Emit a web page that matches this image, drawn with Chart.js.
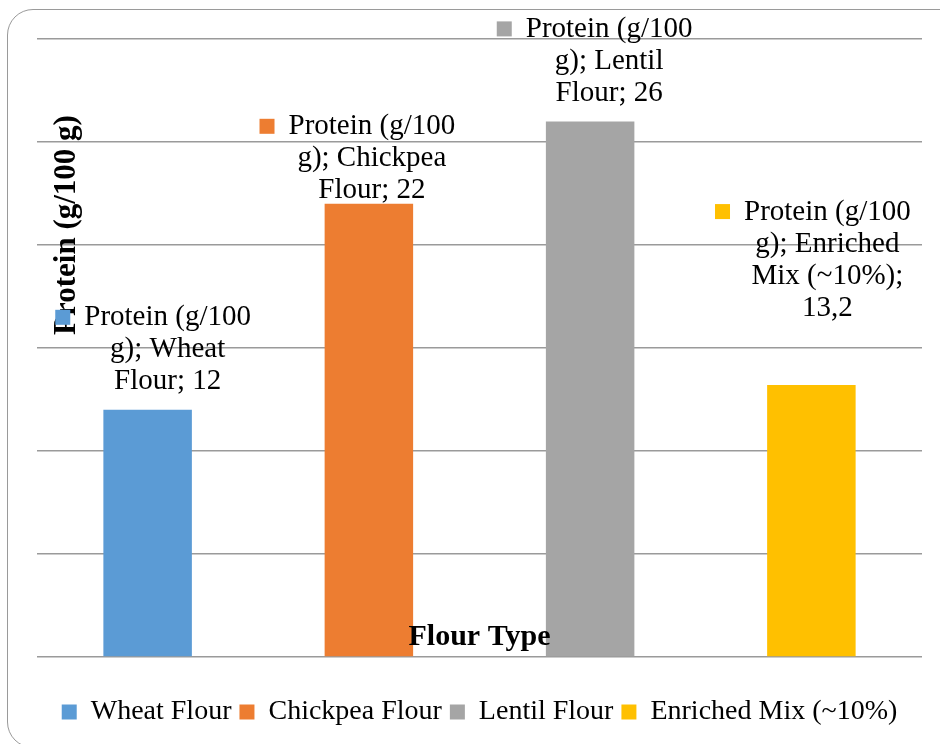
<!DOCTYPE html>
<html lang="en">
<head>
  <meta charset="UTF-8" />
  <title>Protein by Flour Type</title>
  <script src="https://cdn.jsdelivr.net/npm/chart.js"></script>
  <style>
    body {
      margin: 0;
      padding: 0;
      background: #ffffff;
      width: 940px;
      height: 744px;
      overflow: hidden;
      position: relative;
    }

    .frame {
      position: absolute;
      left: 7px;
      top: 9px;
      width: 960px;
      height: 739px;
      border: 1.5px solid #9a9a9a;
      border-radius: 26px;
      box-sizing: border-box;
    }

    .wrap {
      position: absolute;
      left: 0;
      top: 0;
      width: 940px;
      height: 744px;
    }
  </style>
</head>
<body>
  <div class="frame"></div>
  <div class="wrap">
    <canvas id="proteinChart" width="940" height="744"></canvas>
  </div>

  <script>
    const seriesName = "Protein (g/100 g)";
    const categories = ["Wheat Flour", "Chickpea Flour", "Lentil Flour", "Enriched Mix (~10%)"];
    const proteinValues = [12, 22, 26, 13.2];
    const barColors = ["#5B9BD5", "#ED7D31", "#A5A5A5", "#FFC000"];
    const yTicks = [0, 5, 10, 15, 20, 25, 30];

    // line breaks as Excel wrapped them, {v} is the value
    const labelLines = [
      ["Protein (g/100", "g); Wheat", "Flour; {v}"],
      ["Protein (g/100", "g); Chickpea", "Flour; {v}"],
      ["Protein (g/100", "g); Lentil", "Flour; {v}"],
      ["Protein (g/100", "g); Enriched", "Mix (~10%);", "{v}"]
    ];
    // label nudges relative to bar top centre (manual placement in the original)
    const labelShift = [[20, -92], [3, -77], [19, -92], [16, -173]];

    const FONT = "'Liberation Serif', 'Times New Roman', serif";

    const fmt = v => String(v).replace(".", ",");

    const axisTitles = {
      id: "axisTitles",
      afterDatasetsDraw(chart) {
        const { ctx, chartArea } = chart;
        ctx.save();
        ctx.fillStyle = "#000";
        ctx.font = "bold 31px " + FONT;
        ctx.textAlign = "center";
        ctx.textBaseline = "middle";
        // y title sits inside the plot, upper part
        ctx.save();
        ctx.translate(chartArea.left + 30, chartArea.top + 186);
        ctx.rotate(-Math.PI / 2);
        ctx.fillText(seriesName, 0, 0);
        ctx.restore();
        // x title sits just above the baseline
        ctx.font = "bold 30px " + FONT;
        ctx.fillText("Flour Type", (chartArea.left + chartArea.right) / 2, chartArea.bottom - 20);
        ctx.restore();
      }
    };

    const dataLabels = {
      id: "dataLabels",
      afterDatasetsDraw(chart) {
        const { ctx } = chart;
        const meta = chart.getDatasetMeta(0);
        ctx.save();
        ctx.font = "29px " + FONT;
        ctx.fillStyle = "#000";
        ctx.textAlign = "center";
        ctx.textBaseline = "middle";
        meta.data.forEach((bar, i) => {
          const lines = labelLines[i].map(l => l.replace("{v}", fmt(proteinValues[i])));
          const cx = bar.x + labelShift[i][0];
          const y0 = bar.y + labelShift[i][1];
          lines.forEach((line, k) => {
            ctx.fillText(line, cx, y0 + k * 32);
          });
          const w = ctx.measureText(lines[0]).width;
          ctx.fillStyle = barColors[i];
          ctx.fillRect(cx - w / 2 - 29, y0 - 8, 15, 15);
          ctx.fillStyle = "#000";
        });
        ctx.restore();
      }
    };

    new Chart(document.getElementById("proteinChart"), {
      type: "bar",
      data: {
        labels: categories,
        datasets: [{
          label: seriesName,
          data: proteinValues,
          backgroundColor: barColors,
          borderWidth: 0,
          barPercentage: 0.4,
          categoryPercentage: 1
        }]
      },
      options: {
        responsive: false,
        animation: false,
        events: [],
        layout: {
          padding: { left: 37, right: 18, top: 39, bottom: 8 }
        },
        plugins: {
          legend: {
            display: true,
            position: "bottom",
            labels: {
              font: { family: FONT, size: 28 },
              color: "#000",
              boxWidth: 15,
              boxHeight: 15,
              padding: 8,
              generateLabels: () => categories.map((c, i) => ({
                text: c,
                fillStyle: barColors[i],
                strokeStyle: barColors[i],
                lineWidth: 0,
                index: i
              }))
            }
          },
          tooltip: { enabled: false }
        },
        scales: {
          x: {
            grid: { display: false },
            border: { display: false },
            ticks: { display: false },
            afterFit: axis => { axis.height = 33; }
          },
          y: {
            min: 0,
            max: 30,
            afterBuildTicks: axis => { axis.ticks = yTicks.map(v => ({ value: v })); },
            grid: { color: "#9a9a9a", lineWidth: 1.5, drawTicks: false },
            border: { display: false },
            ticks: { display: false }
          }
        }
      },
      plugins: [axisTitles, dataLabels]
    });
  </script>
</body>
</html>
